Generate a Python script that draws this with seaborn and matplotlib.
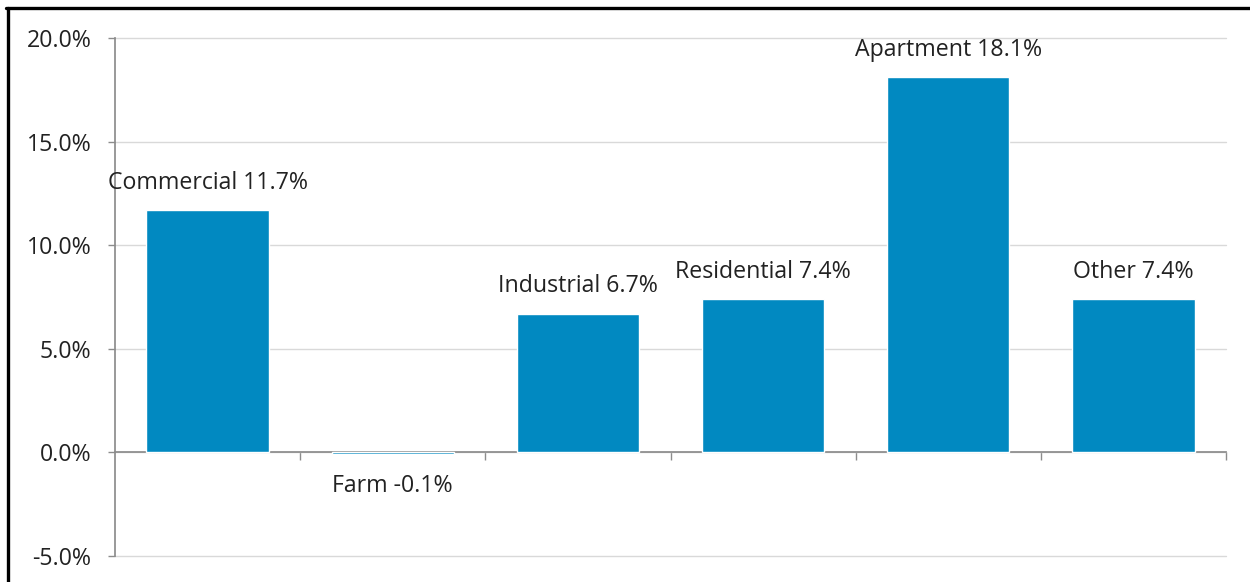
import matplotlib
matplotlib.use("Agg")
import matplotlib.pyplot as plt
from matplotlib.lines import Line2D
from matplotlib.ticker import FuncFormatter, FixedLocator
import seaborn as sns
import pandas as pd

# Percentage change by property class
categories = ["Commercial", "Farm", "Industrial", "Residential", "Apartment", "Other"]
values = [11.7, -0.1, 6.7, 7.4, 18.1, 7.4]
y_ticks = [-5.0, 0.0, 5.0, 10.0, 15.0, 20.0]

BAR_COLOR = "#0189C1"
AXIS_COLOR = "#8c8c8c"
GRID_COLOR = "#d9d9d9"
TEXT_COLOR = "#222222"
FONT_SIZE = 16.7

sns.set_theme(style="white")
plt.rcParams["font.family"] = ["Open Sans", "DejaVu Sans"]

df = pd.DataFrame({"category": categories, "value": values})

fig = plt.figure(figsize=(12.5, 5.82), dpi=100)
ax = fig.add_axes([0.092, 0.0447, 0.8888, 0.89])

sns.barplot(data=df, x="category", y="value", color=BAR_COLOR, width=0.66,
            saturation=1.0, ax=ax, zorder=3)

ax.set_xlim(-0.5, len(categories) - 0.5)
ax.set_ylim(y_ticks[0], y_ticks[-1])
ax.yaxis.set_major_locator(FixedLocator(y_ticks))
ax.yaxis.set_major_formatter(FuncFormatter(lambda v, _: f"{v:.1f}%"))
ax.grid(axis="y", color=GRID_COLOR, linewidth=1.0, zorder=0)
ax.set_axisbelow(True)
for gl in ax.get_ygridlines():
    gl.set_clip_on(False)

# Category boundary ticks on the zero line, no tick labels
ax.xaxis.set_major_locator(FixedLocator([i + 0.5 for i in range(len(categories))]))
ax.set_xticklabels([])
ax.set_xlabel("")
ax.set_ylabel("")

for side in ("top", "right"):
    ax.spines[side].set_visible(False)
ax.spines["bottom"].set_position(("data", 0))
ax.spines["bottom"].set_color(AXIS_COLOR)
ax.spines["left"].set_color(AXIS_COLOR)
ax.spines["bottom"].set_zorder(2)

ax.tick_params(axis="x", direction="out", length=6, width=1, color=AXIS_COLOR,
               bottom=True)
ax.tick_params(axis="y", direction="out", length=5, width=1, color=AXIS_COLOR,
               left=True, pad=12, labelsize=FONT_SIZE, labelcolor=TEXT_COLOR)

# Value labels above (or below) each bar
for i, (cat, val) in enumerate(zip(categories, values)):
    offset = 19.5 if val >= 0 else -23
    ax.annotate(f"{cat} {val:.1f}%", xy=(i, val), xytext=(0, offset),
                textcoords="offset points", ha="center", va="center",
                fontsize=FONT_SIZE, color=TEXT_COLOR, zorder=5)

# Outer frame (left and top edges)
fig.add_artist(Line2D([0.0060, 0.0060], [0.0, 0.987], transform=fig.transFigure,
                      color="black", linewidth=2.4))
fig.add_artist(Line2D([0.0050, 1.0], [0.986, 0.986], transform=fig.transFigure,
                      color="black", linewidth=2.4))

fig.savefig("out.png", dpi=100, facecolor="white")
